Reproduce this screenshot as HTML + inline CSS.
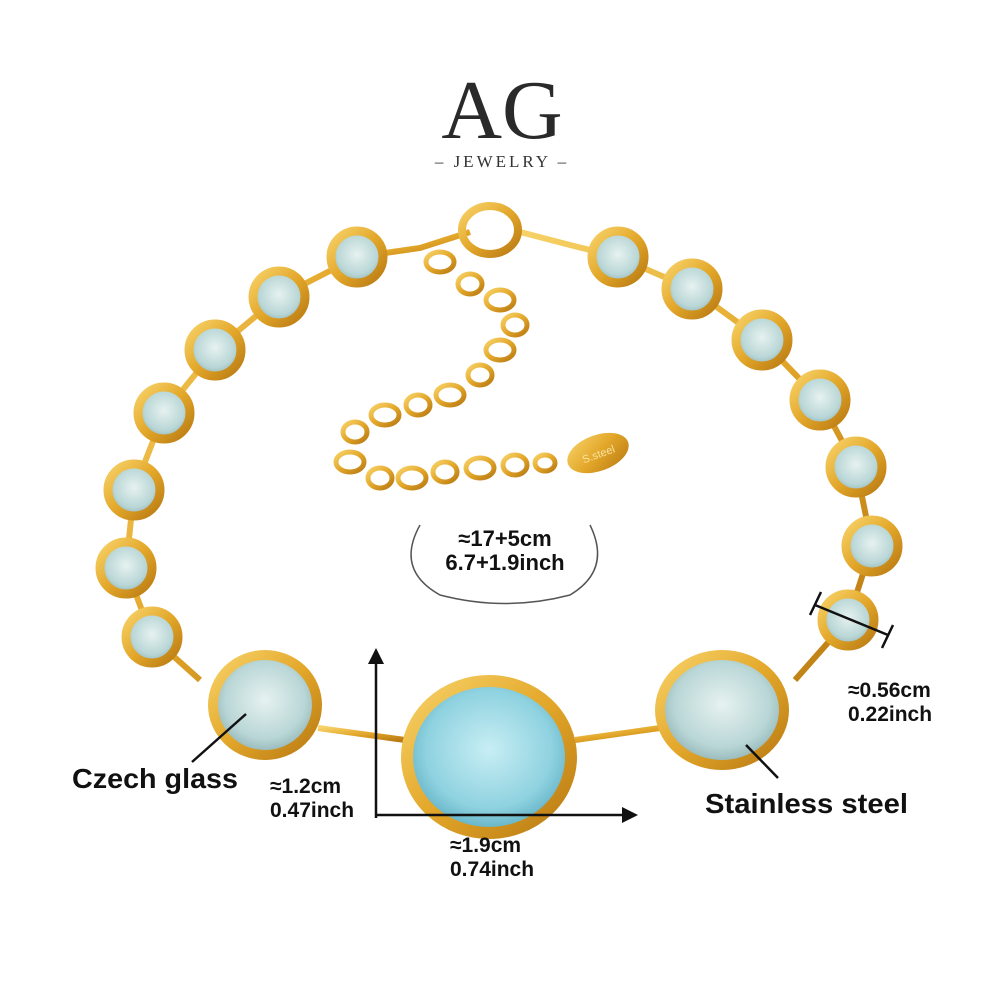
<!DOCTYPE html>
<html><head><meta charset="utf-8"><style>
html,body{margin:0;padding:0;background:#fff}
svg{display:block}
</style></head><body>
<svg width="1000" height="1000" viewBox="0 0 1000 1000" xmlns="http://www.w3.org/2000/svg">
<defs>
<radialGradient id="st" cx="50%" cy="45%" r="55%">
<stop offset="0" stop-color="#e6f2f0"/><stop offset="0.7" stop-color="#b9d6d6"/><stop offset="1" stop-color="#8fb2b4"/>
</radialGradient>
<radialGradient id="bl" cx="50%" cy="45%" r="55%">
<stop offset="0" stop-color="#c8eef4"/><stop offset="0.7" stop-color="#8fd2e0"/><stop offset="1" stop-color="#5fb0c4"/>
</radialGradient>
<linearGradient id="gd" x1="0" y1="0" x2="1" y2="1">
<stop offset="0" stop-color="#f7d268"/><stop offset="0.5" stop-color="#e3a72a"/><stop offset="1" stop-color="#b97a12"/>
</linearGradient>
</defs>
<rect width="1000" height="1000" fill="#fff"/>
<text x="502" y="138" text-anchor="middle" font-family="Liberation Serif,serif" font-size="84" fill="#2a2a2a">AG</text>
<text x="502" y="167" text-anchor="middle" font-family="Liberation Serif,serif" font-size="17" letter-spacing="3" fill="#333">– JEWELRY –</text>

<g fill="none" stroke="url(#gd)" stroke-width="6">
<polyline points="357,257 279,297 215,350 164,413 134,490 126,568 152,637 200,680"/>
<polyline points="357,257 420,248 470,232"/>
<polyline points="520,232 570,245 618,257 692,289 762,340 820,400 856,467 872,546 848,620 795,680"/>
<line x1="318" y1="728" x2="405" y2="740"/>
<line x1="575" y1="740" x2="660" y2="728"/>
</g>
<g fill="none" stroke="url(#gd)" stroke-width="5">
<ellipse cx="490" cy="230" rx="28" ry="24" stroke-width="8"/>
<ellipse cx="440" cy="262" rx="14" ry="10"/><ellipse cx="470" cy="284" rx="12" ry="10"/>
<ellipse cx="500" cy="300" rx="14" ry="10"/><ellipse cx="515" cy="325" rx="12" ry="10"/>
<ellipse cx="500" cy="350" rx="14" ry="10"/><ellipse cx="480" cy="375" rx="12" ry="10"/>
<ellipse cx="450" cy="395" rx="14" ry="10"/><ellipse cx="418" cy="405" rx="12" ry="10"/>
<ellipse cx="385" cy="415" rx="14" ry="10"/><ellipse cx="355" cy="432" rx="12" ry="10"/>
<ellipse cx="350" cy="462" rx="14" ry="10"/><ellipse cx="380" cy="478" rx="12" ry="10"/>
<ellipse cx="412" cy="478" rx="14" ry="10"/><ellipse cx="445" cy="472" rx="12" ry="10"/>
<ellipse cx="480" cy="468" rx="14" ry="10"/><ellipse cx="515" cy="465" rx="12" ry="10"/>
<ellipse cx="545" cy="463" rx="10" ry="8"/>
</g>
<ellipse cx="598" cy="453" rx="32" ry="18" transform="rotate(-20 598 453)" fill="url(#gd)"/>
<text x="598" y="458" text-anchor="middle" font-family="Liberation Sans,sans-serif" font-size="11" fill="#f9e2a0" transform="rotate(-20 598 453)">S.steel</text>

<g stroke="url(#gd)" stroke-width="9" fill="url(#st)">
<circle cx="357" cy="257" r="26"/><circle cx="279" cy="297" r="26"/><circle cx="215" cy="350" r="26"/>
<circle cx="164" cy="413" r="26"/><circle cx="134" cy="490" r="26"/><circle cx="126" cy="568" r="26"/>
<circle cx="152" cy="637" r="26"/>
<circle cx="618" cy="257" r="26"/><circle cx="692" cy="289" r="26"/><circle cx="762" cy="340" r="26"/>
<circle cx="820" cy="400" r="26"/><circle cx="856" cy="467" r="26"/><circle cx="872" cy="546" r="26"/>
<circle cx="848" cy="620" r="26"/>
<ellipse cx="265" cy="705" rx="52" ry="50" stroke-width="10"/>
<ellipse cx="722" cy="710" rx="62" ry="55" stroke-width="10"/>
<ellipse cx="489" cy="757" rx="82" ry="76" stroke-width="12" fill="url(#bl)"/>
</g>

<path d="M420,525 Q395,570 440,595 Q505,612 570,595 Q612,570 590,525" fill="none" stroke="#555" stroke-width="1.5"/>
<g font-family="Liberation Sans,sans-serif" font-weight="bold" fill="#111">
<text x="505" y="546" text-anchor="middle" font-size="22">≈17+5cm</text>
<text x="505" y="570" text-anchor="middle" font-size="22">6.7+1.9inch</text>
<text x="72" y="788" font-size="28" textLength="166" lengthAdjust="spacingAndGlyphs">Czech glass</text>
<text x="270" y="793" font-size="21">≈1.2cm</text>
<text x="270" y="817" font-size="21">0.47inch</text>
<text x="450" y="852" font-size="21">≈1.9cm</text>
<text x="450" y="876" font-size="21">0.74inch</text>
<text x="705" y="813" font-size="28" textLength="203" lengthAdjust="spacingAndGlyphs">Stainless steel</text>
<text x="848" y="697" font-size="21">≈0.56cm</text>
<text x="848" y="721" font-size="21">0.22inch</text>
</g>
<g stroke="#111" stroke-width="2.5" fill="none">
<line x1="376" y1="662" x2="376" y2="818"/>
<line x1="376" y1="815" x2="625" y2="815"/>
<line x1="246" y1="714" x2="192" y2="762"/>
<line x1="746" y1="745" x2="778" y2="778"/>
<line x1="815" y1="605" x2="888" y2="635"/>
<line x1="810" y1="615" x2="821" y2="592"/>
<line x1="882" y1="648" x2="893" y2="625"/>
</g>
<polygon points="376,648 368,664 384,664" fill="#111"/>
<polygon points="638,815 622,807 622,823" fill="#111"/>
</svg>
</body></html>
